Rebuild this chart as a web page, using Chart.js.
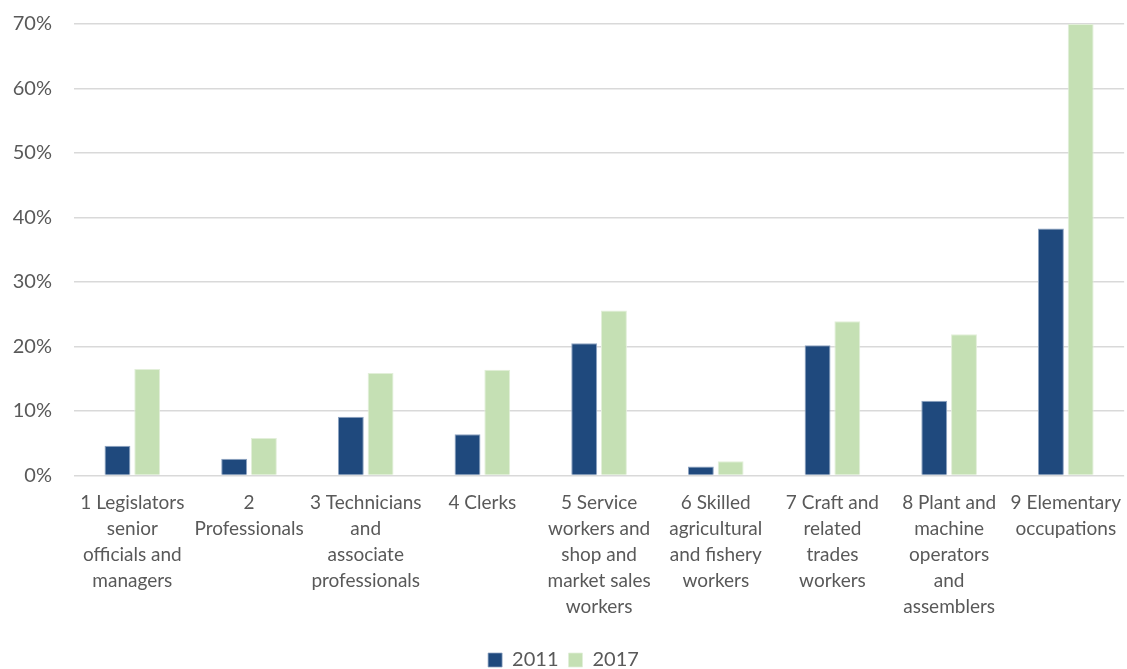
<!DOCTYPE html>
<html>
<head>
<meta charset="utf-8">
<script src="https://cdn.jsdelivr.net/npm/chart.js@4"></script>
<style>
  html, body { margin: 0; padding: 0; background: #fff; }
  #wrap { width: 1127px; height: 669px; position: relative; }
</style>
</head>
<body>
<div id="wrap"><canvas id="chart"></canvas></div>
<script>
const categories = [
  ['1 Legislators', 'senior', 'officials and', 'managers'],
  ['2', 'Professionals'],
  ['3 Technicians', 'and', 'associate', 'professionals'],
  ['4 Clerks'],
  ['5 Service', 'workers and', 'shop and', 'market sales', 'workers'],
  ['6 Skilled', 'agricultural', 'and fishery', 'workers'],
  ['7 Craft and', 'related', 'trades', 'workers'],
  ['8 Plant and', 'machine', 'operators', 'and', 'assemblers'],
  ['9 Elementary', 'occupations']
];
const values2011 = [4.6, 2.6, 9.1, 6.4, 20.5, 1.4, 20.2, 11.6, 38.3];
const values2017 = [16.5, 5.8, 15.9, 16.4, 25.6, 2.2, 23.9, 21.9, 70];
const yTicks = [0, 10, 20, 30, 40, 50, 60, 70];

const textColor = '#595959';
const fontFamily = 'Lato, "Open Sans", sans-serif';

const ctx = document.getElementById('chart').getContext('2d');
new Chart(ctx, {
  type: 'bar',
  data: {
    labels: categories,
    datasets: [{
      label: '2011',
      data: values2011,
      backgroundColor: '#1f497d',
      borderColor: '#8ea4c2',
      borderWidth: { top: 1, left: 1, right: 1, bottom: 0 },
      categoryPercentage: 0.51,
      barPercentage: 0.87
    }, {
      label: '2017',
      data: values2017,
      backgroundColor: '#c5e0b4',
      borderColor: '#e2efd9',
      borderWidth: { top: 1, left: 1, right: 1, bottom: 0 },
      categoryPercentage: 0.51,
      barPercentage: 0.87
    }]
  },
  options: {
    responsive: true,
    maintainAspectRatio: false,
    animation: false,
    layout: { padding: { top: 0, left: 0, right: 0, bottom: -11 } },
    plugins: {
      legend: {
        position: 'bottom',
        labels: {
          color: textColor,
          font: { family: fontFamily, size: 20 },
          boxWidth: 14,
          boxHeight: 14,
          padding: 10
        }
      },
      tooltip: { enabled: false }
    },
    scales: {
      x: {
        grid: { display: false },
        border: { display: false },
        afterFit: axis => { axis.height = 164.5; },
        ticks: {
          color: textColor,
          font: { family: fontFamily, size: 19, lineHeight: 1.37 },
          maxRotation: 0,
          autoSkip: false,
          padding: 6
        }
      },
      y: {
        min: 0,
        max: 70,
        afterBuildTicks: axis => { axis.ticks = yTicks.map(v => ({ value: v })); },
        afterFit: axis => {
          axis.width = 74;
          axis.paddingTop = 24;
          axis.paddingBottom = 12;
        },
        grid: { color: '#d9d9d9', lineWidth: 1.5, drawTicks: false },
        border: { display: false },
        ticks: {
          color: textColor,
          font: { family: fontFamily, size: 20 },
          padding: 22,
          callback: v => v + '%'
        }
      }
    }
  }
});
</script>
</body>
</html>
